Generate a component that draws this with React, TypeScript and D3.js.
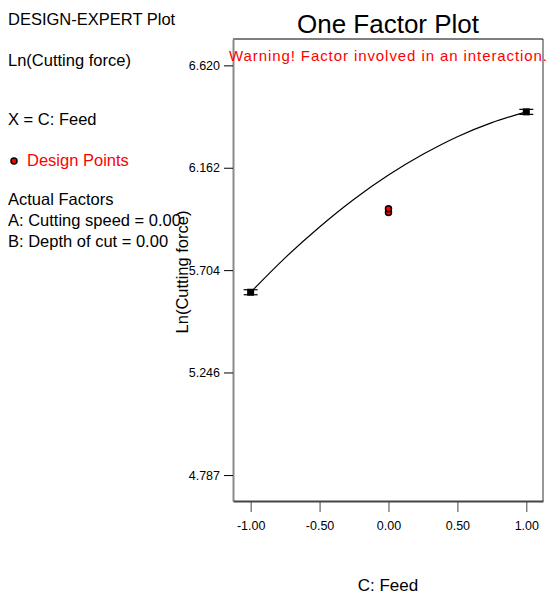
import React, { useRef, useEffect } from "react";
import * as d3 from "d3";

// factor levels (coded) and tick labels
const feedTicks = [-1, -0.5, 0, 0.5, 1];
const yTicks = [6.62, 6.162, 5.704, 5.246, 4.787];

// predicted Ln(Cutting force) along the feed axis
const curveFeed = [-1, -0.75, -0.5, -0.25, 0, 0.25, 0.5, 0.75, 1];
const curvePred = [5.605, 5.759, 5.897, 6.021, 6.129, 6.222, 6.301, 6.364, 6.412];

// LSD bars at the ends
const barFeed = [-1, 1];
const barPred = [5.605, 6.412];

// design points (center replicates)
const designFeed = [0, 0];
const designVal = [5.962, 5.978];

const leftLines = [
  { text: "DESIGN-EXPERT Plot", y: 25, color: "#000" },
  { text: "Ln(Cutting force)", y: 66, color: "#000" },
  { text: "X = C: Feed", y: 125, color: "#000" },
  { text: "Actual Factors", y: 205, color: "#000" },
  { text: "A: Cutting speed = 0.00", y: 226, color: "#000" },
  { text: "B: Depth of  cut = 0.00", y: 247, color: "#000" },
];

const FONT = "'Liberation Sans', Arial, sans-serif";

const App = () => {
  const ref = useRef(null);

  useEffect(() => {
    const svg = d3.select(ref.current);
    svg.selectAll("*").remove();

    const width = 548;
    const height = 596;
    const left = 233, right = 543, top = 39, bottom = 501;

    svg.attr("width", width).attr("height", height);

    const x = d3.scaleLinear().domain([-1.128, 1.121]).range([left, right]);
    const y = d3.scaleLinear().domain([4.671, 6.738]).range([bottom, top]);

    // legend / info text on the left
    svg.append("g")
      .selectAll("text")
      .data(leftLines)
      .enter()
      .append("text")
      .attr("x", 8)
      .attr("y", (d) => d.y)
      .attr("font-family", FONT)
      .attr("font-size", "16.5px")
      .attr("fill", (d) => d.color)
      .text((d) => d.text);

    svg.append("circle")
      .attr("cx", 14)
      .attr("cy", 161)
      .attr("r", 3)
      .attr("fill", "#ff0000")
      .attr("stroke", "#000")
      .attr("stroke-width", 1.5);

    svg.append("text")
      .attr("x", 27)
      .attr("y", 166)
      .attr("font-family", FONT)
      .attr("font-size", "16.5px")
      .attr("fill", "#ff0000")
      .text("Design Points");

    // frame
    svg.append("line")
      .attr("x1", left).attr("x2", right)
      .attr("y1", top).attr("y2", top)
      .attr("stroke", "#000").attr("stroke-width", 1);
    svg.append("line")
      .attr("x1", right).attr("x2", right)
      .attr("y1", top).attr("y2", bottom)
      .attr("stroke", "#333").attr("stroke-width", 1);

    const hyphen = (f) => (d) => f(d).replace("\u2212", "-");

    // y axis
    const yAxis = svg.append("g")
      .attr("transform", `translate(${left},0)`)
      .call(d3.axisLeft(y).tickValues(yTicks).tickSize(9).tickSizeOuter(0).tickPadding(4)
        .tickFormat(hyphen(d3.format(".3f"))));
    yAxis.select(".domain").attr("stroke", "#8a8a8a").attr("stroke-width", 2);
    yAxis.selectAll(".tick line").attr("stroke", "#000");
    yAxis.selectAll("text")
      .attr("font-family", FONT)
      .attr("font-size", "12.5px")
      .attr("fill", "#000");

    // x axis
    const xAxis = svg.append("g")
      .attr("transform", `translate(0,${bottom})`)
      .call(d3.axisBottom(x).tickValues(feedTicks).tickSize(11).tickSizeOuter(0).tickPadding(9)
        .tickFormat(hyphen(d3.format(".2f"))));
    xAxis.select(".domain").attr("stroke", "#444").attr("stroke-width", 2);
    xAxis.selectAll(".tick line").attr("stroke", "#444");
    xAxis.selectAll("text")
      .attr("font-family", FONT)
      .attr("font-size", "12.5px")
      .attr("fill", "#000");

    // prediction curve
    const line = d3.line()
      .x((d) => x(d[0]))
      .y((d) => y(d[1]))
      .curve(d3.curveCatmullRom);

    svg.append("path")
      .datum(curveFeed.map((f, i) => [f, curvePred[i]]))
      .attr("d", line)
      .attr("fill", "none")
      .attr("stroke", "#000")
      .attr("stroke-width", 1.2);

    // end markers with bars
    const bars = svg.append("g")
      .selectAll("g")
      .data(barFeed.map((f, i) => [f, barPred[i]]))
      .enter()
      .append("g")
      .attr("transform", (d) => `translate(${x(d[0])},${y(d[1])})`);
    bars.append("rect")
      .attr("x", -3.5).attr("y", -3.5)
      .attr("width", 7).attr("height", 7)
      .attr("fill", "#000");
    [-2.5, 2.5].forEach((dy) => {
      bars.append("line")
        .attr("x1", -7).attr("x2", 7)
        .attr("y1", dy).attr("y2", dy)
        .attr("stroke", "#000").attr("stroke-width", 1.2);
    });

    // design points
    svg.append("g")
      .selectAll("circle")
      .data(designFeed.map((f, i) => [f, designVal[i]]))
      .enter()
      .append("circle")
      .attr("cx", (d) => x(d[0]))
      .attr("cy", (d) => y(d[1]))
      .attr("r", 3)
      .attr("fill", "#ff0000")
      .attr("stroke", "#000")
      .attr("stroke-width", 1.5);

    // titles
    svg.append("text")
      .attr("x", 388)
      .attr("y", 33)
      .attr("text-anchor", "middle")
      .attr("font-family", FONT)
      .attr("font-size", "26px")
      .attr("fill", "#000")
      .text("One Factor Plot");

    svg.append("text")
      .attr("x", 229)
      .attr("y", 61)
      .attr("font-family", FONT)
      .attr("font-size", "15px")
      .attr("fill", "#ff0000")
      .attr("textLength", 318)
      .attr("lengthAdjust", "spacing")
      .text("Warning! Factor involved in an interaction.");

    svg.append("text")
      .attr("transform", `translate(188,272) rotate(-90)`)
      .attr("text-anchor", "middle")
      .attr("font-family", FONT)
      .attr("font-size", "16.5px")
      .attr("fill", "#000")
      .text("Ln(Cutting force)");

    svg.append("text")
      .attr("x", 388)
      .attr("y", 591)
      .attr("text-anchor", "middle")
      .attr("font-family", FONT)
      .attr("font-size", "17px")
      .attr("fill", "#000")
      .text("C: Feed");
  }, []);

  return (
    <svg ref={ref} style={{ position: "absolute", left: 0, top: 0, background: "#fff" }}></svg>
  );
};

export default App;
